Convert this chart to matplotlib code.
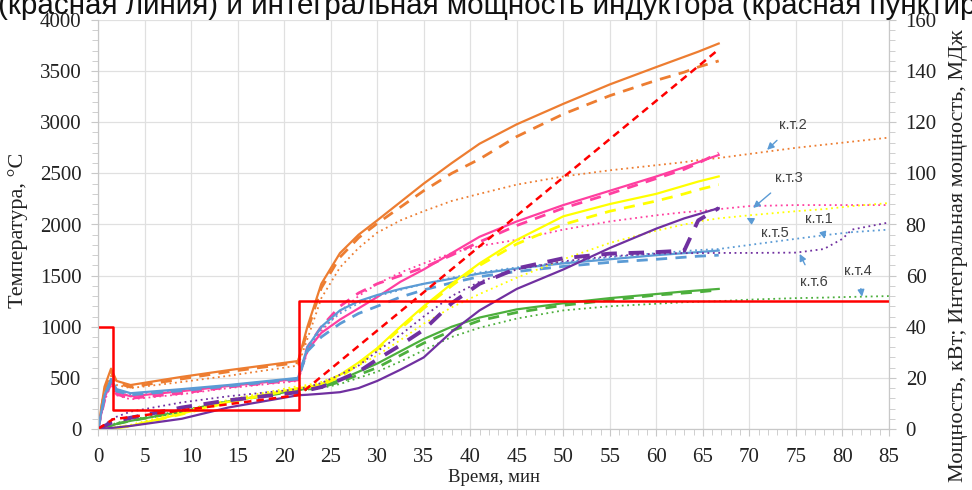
import matplotlib
matplotlib.use("Agg")
import matplotlib.pyplot as plt
from matplotlib.ticker import MultipleLocator

# ---------------- data ----------------
t_sim = [0, 0.7, 1.4, 2.0, 3.5, 9, 14, 21.5, 22.5, 24, 26, 28, 30, 32.5, 35, 38, 41,
         45, 50, 55, 60, 63, 64.5, 66.7]
t_dot = t_sim + [70, 75, 78, 80, 81, 85]

# к.т.2 (orange)
kt2_solid = [0, 414, 590, 470, 430, 510, 575, 665, 1000, 1420, 1720, 1900, 2040, 2220, 2400,
             2600, 2790, 2980, 3180, 3370, 3540, 3640, 3690, 3770]
kt2_dash = [0, 380, 560, 450, 410, 490, 560, 650, 960, 1380, 1680, 1870, 2010, 2170, 2330,
            2500, 2640, 2860, 3080, 3260, 3410, 3490, 3540, 3600]
kt2_dot = [0, 330, 520, 430, 400, 460, 520, 620, 880, 1280, 1580, 1770, 1920, 2040, 2130,
           2230, 2300, 2390, 2470, 2530, 2580, 2610, 2630, 2650, 2690, 2750, 2780, 2800,
           2810, 2850]
# к.т.3 (pink)
kt3_solid = [0, 300, 470, 360, 320, 370, 420, 490, 770, 940, 1070, 1180, 1290, 1440, 1560,
             1720, 1880, 2030, 2190, 2330, 2470, 2560, 2610, 2680]
kt3_dash = [0, 280, 450, 340, 300, 350, 410, 480, 800, 1000, 1200, 1330, 1420, 1500, 1580,
            1700, 1830, 1990, 2160, 2300, 2450, 2540, 2600, 2700]
kt3_dot = [0, 270, 440, 330, 290, 340, 400, 470, 750, 960, 1150, 1300, 1420, 1530, 1620,
           1720, 1790, 1850, 1950, 2030, 2090, 2120, 2130, 2150, 2180, 2190, 2190, 2190,
           2190, 2190]
# к.т.1 (blue)
kt1_solid = [0, 330, 490, 390, 350, 390, 430, 500, 800, 1000, 1160, 1250, 1310, 1370, 1420,
             1470, 1520, 1570, 1620, 1660, 1700, 1720, 1730, 1745]
kt1_dash = [0, 310, 470, 370, 335, 375, 420, 490, 760, 900, 1030, 1130, 1200, 1290, 1360,
            1430, 1490, 1540, 1590, 1630, 1660, 1680, 1690, 1700]
kt1_dot = [0, 320, 480, 380, 340, 385, 425, 495, 780, 980, 1130, 1230, 1300, 1360, 1420,
           1480, 1530, 1580, 1630, 1680, 1720, 1740, 1750, 1760, 1800, 1860, 1895, 1915,
           1925, 1950]
# к.т.6 (purple)
kt6_solid = [0, 5, 10, 15, 30, 100, 210, 330, 335, 345, 360, 400, 470, 580, 700, 950, 1160,
             1370, 1560, 1770, 1960, 2060, 2100, 2160]
kt6_dash = [0, 30, 60, 80, 110, 210, 280, 360, 380, 410, 480, 560, 680, 820, 970, 1230,
            1420, 1570, 1670, 1715, 1730, 1745, 2040, 2160]
kt6_dot = [0, 40, 90, 120, 170, 260, 320, 390, 410, 450, 530, 620, 760, 920, 1100, 1300,
           1440, 1560, 1640, 1690, 1715, 1720, 1720, 1722, 1722, 1725, 1760, 1860, 1950,
           2020]
# к.т.5 (yellow)
kt5_solid = [0, 3, 8, 12, 30, 150, 265, 400, 410, 440, 530, 650, 790, 1000, 1200, 1420,
             1620, 1850, 2080, 2200, 2300, 2380, 2420, 2470]
kt5_dash = [0, 3, 8, 12, 28, 145, 260, 395, 405, 430, 510, 630, 780, 980, 1180, 1400, 1600,
            1810, 2000, 2130, 2230, 2300, 2340, 2390]
kt5_dot = [0, 5, 12, 20, 40, 170, 285, 420, 430, 460, 530, 620, 720, 870, 1030, 1190, 1320,
           1480, 1660, 1820, 1940, 2000, 2030, 2060, 2090, 2130, 2150, 2170, 2180, 2210]
# к.т.4 (green)
kt4_solid = [0, 10, 30, 50, 80, 170, 270, 380, 395, 420, 480, 560, 640, 760, 880, 1000,
             1090, 1170, 1230, 1280, 1320, 1345, 1355, 1370]
kt4_dash = [0, 10, 30, 50, 80, 170, 270, 375, 390, 410, 460, 530, 600, 720, 840, 960, 1060,
            1140, 1210, 1260, 1310, 1330, 1340, 1360]
kt4_dot = [0, 20, 40, 60, 90, 180, 280, 385, 380, 400, 440, 500, 560, 660, 770, 900, 990,
           1080, 1160, 1200, 1225, 1240, 1245, 1250, 1265, 1280, 1285, 1290, 1292, 1300]

# inductor power (kW) and integral energy (MJ)
t_power = [0, 1.6, 21.6, 85]
power_kw = [40, 7.5, 50, 50]
t_energy = [0, 1.6, 21.6, 66.7]
energy_mj = [0, 3.8, 13.3, 148.5]

labels = ["к.т.2", "к.т.3", "к.т.5", "к.т.1", "к.т.6", "к.т.4"]
label_xy = [(74.7, 2975), (74.2, 2456), (72.7, 1918), (77.5, 2055), (76.9, 1438), (81.7, 1549)]
label_tip = [(71.9, 2730), (70.4, 2162), (69.7, 2065), (78.1, 1859), (75.4, 1712), (82.1, 1294)]

# ---------------- plot ----------------
serif = "Liberation Serif"
fig = plt.figure(figsize=(9.72, 4.9), dpi=100)
ax = fig.add_axes([98 / 972, 61 / 490, 791 / 972, 409 / 490])
ax2 = ax.twinx()

series = [
    ("#ED7D31", kt2_solid, kt2_dash, kt2_dot),
    ("#FF3FA0", kt3_solid, kt3_dash, kt3_dot),
    ("#5B9BD5", kt1_solid, kt1_dash, kt1_dot),
    ("#4CAF3C", kt4_solid, kt4_dash, kt4_dot),
    ("#FFFF00", kt5_solid, kt5_dash, kt5_dot),
    ("#7030A0", kt6_solid, kt6_dash, kt6_dot),
]
for col, s, d, o in series:
    ax.plot(t_dot, o, color=col, lw=1.3, ls=(0, (1, 2)))
    lw_d = 2.8 if col == "#7030A0" else 2.0
    ax.plot(t_sim, d, color=col, lw=lw_d, ls=(0, (4, 3)))
    ax.plot(t_sim, s, color=col, lw=1.6)

ax2.plot(t_power, power_kw, color="#FF0000", lw=1.8, drawstyle="steps-post")
ax2.plot(t_energy, energy_mj, color="#FF0000", lw=1.8, ls=(0, (3, 2)))

ax.set_xlim(0, 85)
ax.set_ylim(0, 4000)
ax2.set_ylim(0, 160)

ax.xaxis.set_major_locator(MultipleLocator(5))
ax.xaxis.set_minor_locator(MultipleLocator(1))
ax.yaxis.set_major_locator(MultipleLocator(500))
ax.yaxis.set_minor_locator(MultipleLocator(100))
ax2.yaxis.set_major_locator(MultipleLocator(20))
ax2.yaxis.set_minor_locator(MultipleLocator(4))

ax.grid(True, which="major", color="#e0e0e0", lw=0.9)
ax.set_axisbelow(True)
for a in (ax, ax2):
    a.spines["top"].set_visible(False)
    for side in ("left", "bottom", "right"):
        a.spines[side].set_color("#c8c8c8")
    a.tick_params(which="both", color="#c8c8c8", labelcolor="#222222",
                  labelsize=15, direction="out", pad=7)
    a.tick_params(which="major", length=5)
    a.tick_params(which="minor", length=4)
    for lab in a.get_xticklabels() + a.get_yticklabels():
        lab.set_family(serif)
ax.tick_params(axis="x", pad=9)

ax.set_xlabel("Время, мин", family=serif, fontsize=13.5, color="#222222", labelpad=1)
ax.set_ylabel("Температура, °С", family=serif, fontsize=16, color="#222222", va="center")
ax.yaxis.set_label_coords(-80 / 791, (429 - 230) / 409)
ax2.set_ylabel("Мощность, кВт; Интегральная мощность, МДж", family=serif, fontsize=16,
               color="#222222", va="center")
ax2.yaxis.set_label_coords((958 - 98) / 791, (429 - 256) / 409)

for lab, xy, tip in zip(labels, label_xy, label_tip):
    ax.annotate(lab, xy=tip, xytext=xy, ha="center", va="center",
                fontsize=10.5, color="#404040", family="Liberation Sans",
                arrowprops=dict(arrowstyle="-|>", color="#5B9BD5", lw=1.0,
                                mutation_scale=10, shrinkA=6, shrinkB=0))

fig.text(-0.002, 1 - 14 / 490,
         "(красная линия) и интегральная мощность индуктора (красная пунктирная линия)",
         fontsize=21.3, family="Liberation Sans", color="#111111", ha="left", va="baseline")

fig.savefig("out.png", dpi=100)
